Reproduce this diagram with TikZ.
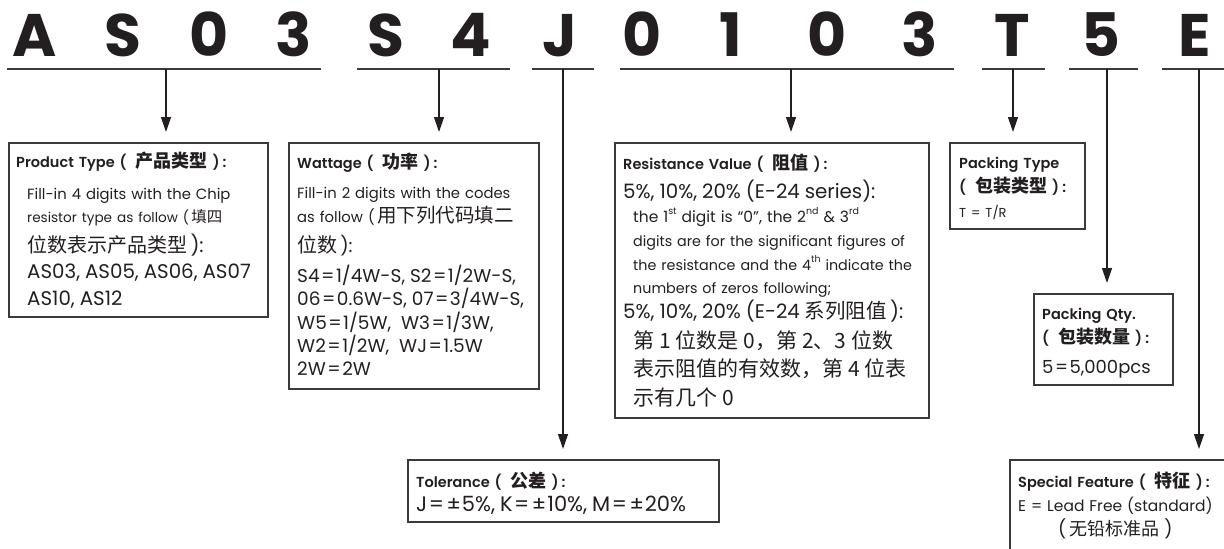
\documentclass[tikz,border=0pt]{standalone}
\usepackage{fontspec}
\setmainfont{Poppins}
\newfontfamily\headfont{Poppins Bold}
\newfontfamily\titlefont{Poppins SemiBold}
\newfontfamily\cjk{Noto Sans CJK SC}
\usetikzlibrary{positioning,arrows.meta}
\definecolor{ink}{HTML}{231F20}
\definecolor{edge}{HTML}{3A3A3A}
\newcommand\zh[2][15.5]{{\cjk\fontsize{#1}{24}\selectfont #2}}
\newcommand\zhb[1]{{\cjk\bfseries\fontsize{18}{24}\selectfont #1}}
\newcommand\pzh[1]{(\hspace{9pt}\zhb{#1}\hspace{5pt})\hspace{3pt}:}
\newcommand\feq{\kern1.5pt=\kern1.5pt}
\newcommand\fpm{\kern1pt±\kern1pt}
\newcommand\sups[1]{\raisebox{0.5em}{\fontsize{9.5}{9.5}\selectfont #1}}
\newcommand\ttl[1]{{\titlefont\fontsize{14.5}{24}\selectfont #1}}
\newcommand\lrg[2][19.8]{{\fontsize{#1}{24}\selectfont #2}}

\begin{document}
\begin{tikzpicture}[x=1pt, y=-1pt,
    digit/.style = {anchor=base, text=ink, inner sep=0pt, font=\headfont\fontsize{60}{60}\selectfont},
    bar/.style = {draw=edge, line width=1.8pt},
    link/.style = {draw=ink, line width=1.3pt, -{Triangle[length=15pt,width=10pt]}, shorten >=10pt},
    card/.style = {draw=edge, line width=1.5pt, anchor=north west, inner sep=0pt},
    info/.style = {anchor=base west, inner sep=0pt, text=ink, align=left, text width=#1,
                   font=\fontsize{14.8}{24}\selectfont},
    info/.default = 320pt]
    \useasboundingbox (0,0) rectangle (1224,549);
    \clip (0,0) rectangle (1224,549);

    % part number
    \foreach \ch/\x [count=\i] in {A/35, S/123, 0/209, 3/294, S/386, 4/471, J/560,
                                   0/642, 1/731, 0/827, 3/920, T/1012, 5/1101, E/1195}
        \node[digit] (d\i) at (\x,56) {\ch};
    \foreach \i/\l/\r/\m in {1/7/321/166, 2/357/510/439, 3/532/594/563, 4/620/954/791,
                             5/982/1045/1013, 6/1069/1138/1107, 7/1162/1226/1199} {
        \draw[bar] (\l,69) -- (\r,69);
        \coordinate (t\i) at (\m,69);
    }

    % boxes
    \node[card, minimum width=259pt, minimum height=174pt] (ptype) at (8,142) {};
    \node[card, minimum width=250pt, minimum height=246pt] (watt) at (288,142) {};
    \node[card, minimum width=314pt, minimum height=275pt] (resv) at (614,142) {};
    \node[card, minimum width=135pt, minimum height=86pt] (pack) at (949,142) {};
    \node[card, minimum width=139pt, minimum height=91pt] (qty) at (1033,293) {};
    \node[card, minimum width=311pt, minimum height=62pt] (tol) at (407,459) {};
    \node[card, minimum width=240pt, minimum height=120pt] (spec) at (1009,459) {};

    \node[info] (ptype-txt) at (16,167) {\ttl{Product Type \pzh{产品类型}}\\[8pt]
        \hspace*{11pt}Fill-in 4 digits with the Chip\\[-1pt]
        \hspace*{11pt}{\fontsize{13.6}{24}\selectfont resistor type as follow (\,\zh{填四}}\\[6pt]
        \hspace*{11pt}\lrg{\zh[20]{位数表示产品类型}\,):}\\[2pt]
        \hspace*{11pt}\lrg{AS03, AS05, AS06, AS07}\\[3pt]
        \hspace*{11pt}\lrg{AS10, AS12}};
    \node[info] (watt-txt) at (297,168) {\ttl{Wattage \pzh{功率}}\\[6pt]
        Fill-in 2 digits with the codes\\
        as follow (\,\zh[19.5]{用下列代码填二}\\[6pt]
        \lrg[18.5]{\zh[20]{位数}\,):}\\[6pt]
        \lrg[18.5]{S4\feq1/4W-S, S2\feq1/2W-S,}\\[-1pt]
        \lrg[18.5]{06\feq0.6W-S, 07\feq3/4W-S,}\\
        \lrg[18.5]{W5\feq1/5W,\ \ W3\feq1/3W,}\\[-1pt]
        \lrg[18.5]{W2\feq1/2W,\ \ WJ\feq1.5W}\\[-1pt]
        \lrg[18.5]{2W\feq2W}};
    \node[info] (resv-txt) at (623,169) {\ttl{Resistance Value \pzh{阻值}}\\[5pt]
        \lrg{5\%, 10\%, 20\% (E-24 series):}\\
        {\fontsize{14.3}{24}\selectfont
        \hspace*{10pt}{\fontsize{15.5}{24}\selectfont the 1\sups{st} digit is “0”, the 2\sups{nd} \& 3\sups{rd}}\\
        \hspace*{10pt}digits are for the significant figures of\\
        \hspace*{10pt}the resistance and the 4\sups{th} indicate the\\[-1pt]
        \hspace*{10pt}numbers of zeros following;}\\[1pt]
        \lrg{5\%, 10\%, 20\% (E-24 \zh[20.5]{系列阻值}\,):}\\[6pt]
        \hspace*{10pt}\zh[21]{第 1 位数是 0，第 2、3 位数}\\[4pt]
        \hspace*{10pt}\zh[21]{表示阻值的有效数，第 4 位表}\\[5pt]
        \hspace*{10pt}\zh[21]{示有几个 0}};
    \node[info] (pack-txt) at (959,168) {\ttl{Packing Type}\\
        \ttl{\pzh{包装类型}}\\[1pt]
        {\fontsize{13}{24}\selectfont T = T/R}};
    \node[info] (qty-txt) at (1042,319) {\ttl{Packing Qty.}\\
        \ttl{\pzh{包装数量}}\\[6pt]
        \lrg[18]{5\feq5,000pcs}};
    \node[info] (tol-txt) at (416,487) {\ttl{Tolerance \pzh{公差}}\\
        \lrg[21]{J\feq\fpm5\%, K\feq\fpm10\%, M\feq\fpm20\%}};
    \node[info] (spec-txt) at (1018,487) {\ttl{Special Feature \pzh{特征}}\\
        {\fontsize{15.5}{24}\selectfont E = Lead Free (standard)}\\
        \hspace*{40pt}{\fontsize{18}{24}\selectfont (\,\zh[18]{无铅标准品}\hspace{5pt})}};

    % arrows
    \draw[link] (t1) -- (t1 |- ptype.north);
    \draw[link] (t2) -- (t2 |- watt.north);
    \draw[link] (t3) -- (t3 |- tol.north);
    \draw[link] (t4) -- (t4 |- resv.north);
    \draw[link] (t5) -- (t5 |- pack.north);
    \draw[link] (t6) -- (t6 |- qty.north);
    \draw[link] (t7) -- (t7 |- spec.north);
\end{tikzpicture}
\end{document}
